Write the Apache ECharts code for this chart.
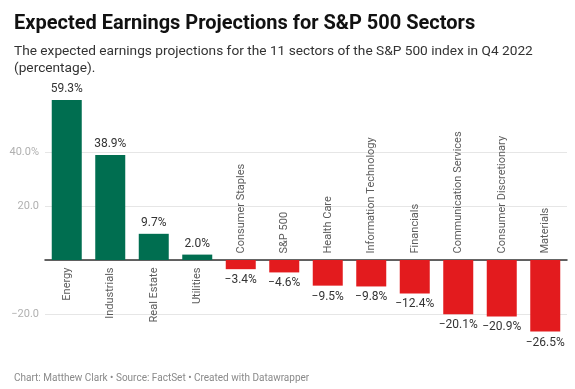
<!DOCTYPE html>
<html><head><meta charset="utf-8">
<script src="https://cdn.jsdelivr.net/npm/echarts@6/dist/echarts.min.js"></script>
<style>html,body{margin:0;padding:0;background:#fff;}#c{width:575px;height:389px;}</style>
</head><body><div id="c"></div>
<script>
const categories = ['Energy','Industrials','Real Estate','Utilities','Consumer Staples','S&P 500','Health Care','Information Technology','Financials','Communication Services','Consumer Discretionary','Materials'];
const values = [59.3, 38.9, 9.7, 2.0, -3.4, -4.6, -9.5, -9.8, -12.4, -20.1, -20.9, -26.5];
const yTickLabels = {'40': '40.0%', '20': '20.0', '-20': '\u221220.0'};
const titleText = 'Expected Earnings Projections for S&P 500 Sectors';
const subtitleText = 'The expected earnings projections for the 11 sectors of the S&P 500 index in Q4 2022\n(percentage).';
const footerText = 'Chart: Matthew Clark \u2022 Source: FactSet \u2022 Created with Datawrapper';

const GREEN = '#006e50', RED = '#e31b1e';
const FONT = 'Roboto';
const fmt = v => (v < 0 ? '\u2212' : '') + Math.abs(v).toFixed(1) + '%';

const barData = values.map(v => ({
  value: v,
  itemStyle: {color: v >= 0 ? GREEN : RED},
  label: {position: v >= 0 ? 'top' : 'bottom'}
}));
const catLabelData = values.map((v, i) => ({
  value: 0,
  label: v >= 0
    ? {position: 'bottom', distance: 7, align: 'right', verticalAlign: 'middle', formatter: categories[i]}
    : {position: 'top', distance: 6, align: 'left', verticalAlign: 'middle', formatter: categories[i]}
}));

const chart = echarts.init(document.getElementById('c'), null, {renderer: 'canvas'});
chart.setOption({
  animation: false,
  textStyle: {fontFamily: FONT},
  title: [
    {text: titleText, left: 9, top: 9, textStyle: {fontFamily: FONT, fontSize: 20, fontWeight: 'bold', color: '#111'}},
    {text: subtitleText, left: 9, top: 38, textStyle: {fontFamily: FONT, fontSize: 13.7, fontWeight: 'normal', color: '#333', lineHeight: 17}},
    {text: footerText, left: 9, top: 368, textStyle: {fontFamily: FONT, fontSize: 10, fontWeight: 'normal', color: '#8a8a8a'}}
  ],
  grid: {left: 45, right: 8, top: 98, bottom: 21, containLabel: false},
  xAxis: {
    type: 'category', data: categories,
    axisLine: {show: true, onZero: true, lineStyle: {color: '#333', width: 1.5}},
    axisTick: {show: false}, axisLabel: {show: false}, splitLine: {show: false}
  },
  yAxis: {
    type: 'value', min: -40, max: 60, interval: 20,
    axisLine: {show: false}, axisTick: {show: false},
    axisLabel: {
      margin: 6, fontSize: 11, color: '#b0b0b0', fontFamily: FONT,
      showMinLabel: false, showMaxLabel: false,
      formatter: v => yTickLabels[String(v)] || ''
    },
    splitLine: {show: true, showMinLine: false, showMaxLine: false, lineStyle: {color: '#e6e6e6', width: 1}}
  },
  series: [
    {
      type: 'bar', data: barData, barWidth: 30, z: 2,
      label: {show: true, distance: 5, fontSize: 12, color: '#333', fontFamily: FONT, formatter: p => fmt(p.value)}
    },
    {
      type: 'scatter', data: catLabelData, symbolSize: 1, itemStyle: {color: 'rgba(0,0,0,0)'}, silent: true, z: 3,
      label: {show: true, rotate: 90, fontSize: 11, color: '#333', fontFamily: FONT}
    }
  ]
});
</script></body></html>
